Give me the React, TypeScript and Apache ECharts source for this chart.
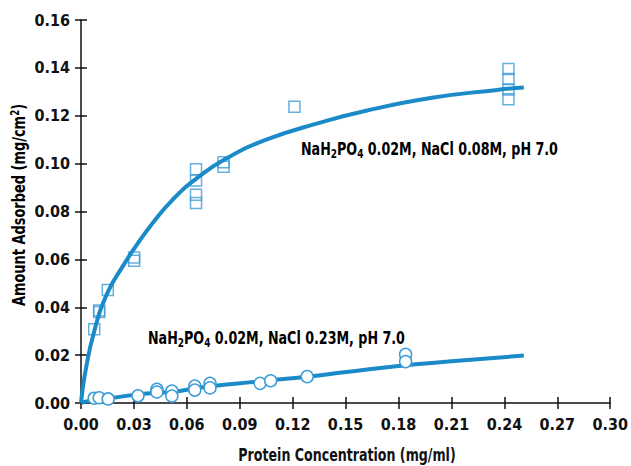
import React, { useEffect, useRef } from "react";
import * as echarts from "echarts";

// Data
const squaresX = [0.0075, 0.0103, 0.0103, 0.0152, 0.0301, 0.0301, 0.0652, 0.0652, 0.0652, 0.0652, 0.0808, 0.0808, 0.121, 0.2423, 0.2423, 0.2423, 0.2423];
const squaresY = [0.0308, 0.0386, 0.038, 0.0472, 0.0608, 0.0594, 0.0976, 0.093, 0.087, 0.0836, 0.1006, 0.0987, 0.1238, 0.1395, 0.1354, 0.131, 0.1269];

const circlesX = [0.0075, 0.0103, 0.0154, 0.0323, 0.043, 0.043, 0.0515, 0.0515, 0.0645, 0.0645, 0.0731, 0.0731, 0.1015, 0.1075, 0.1282, 0.184, 0.184];
const circlesY = [0.002, 0.0022, 0.0017, 0.003, 0.0057, 0.0046, 0.005, 0.0029, 0.0071, 0.0054, 0.0082, 0.0063, 0.0082, 0.0093, 0.011, 0.0203, 0.0173];

const upperCurveX = [0, 0.0023, 0.0075, 0.015, 0.024, 0.032, 0.041, 0.052, 0.065, 0.082, 0.105, 0.135, 0.161, 0.199, 0.236, 0.251];
const upperCurveY = [0, 0.0124, 0.03, 0.046, 0.0575, 0.0665, 0.0755, 0.085, 0.0935, 0.102, 0.11, 0.117, 0.122, 0.1275, 0.1308, 0.1318];

const lowerCurveX = [0, 0.0075, 0.0164, 0.0323, 0.052, 0.0671, 0.0859, 0.1047, 0.1282, 0.1517, 0.18, 0.2081, 0.251];
const lowerCurveY = [0, 0.0013, 0.002, 0.0036, 0.0047, 0.0064, 0.0079, 0.0093, 0.011, 0.0131, 0.0155, 0.0173, 0.0198];

const xTicks = { min: 0, max: 0.3, interval: 0.03 };
const yTicks = { min: 0, max: 0.16, interval: 0.02 };

const FONT = '"DejaVu Sans Condensed", "Liberation Sans Narrow", sans-serif';
const LINE = "#1b8ac8";
const MARK = "#3d9dd6";

const zip = (xs: number[], ys: number[]) => xs.map((x, i) => [x, ys[i]]);

export default function App() {
  const ref = useRef<HTMLDivElement>(null);
  useEffect(() => {
    if (!ref.current) return;
    const chart = echarts.init(ref.current, null, { renderer: "svg" });
    const labelStyle = { fontFamily: FONT, fontWeight: "bold" as const, fontSize: 16, color: "#111" };
    const subRich = {
      b: { fontFamily: FONT, fontWeight: "bold" as const, fontSize: 17, color: "#111" },
      sub: { fontFamily: FONT, fontWeight: "bold" as const, fontSize: 12, color: "#111", verticalAlign: "bottom" as const, padding: [8, 0, 0, 0] },
    };
    const baseX = {
      type: "value" as const,
      min: xTicks.min,
      max: xTicks.max,
      interval: xTicks.interval,
      position: "bottom" as const,
      splitLine: { show: false },
    };
    const baseY = {
      type: "value" as const,
      min: yTicks.min,
      max: yTicks.max,
      interval: yTicks.interval,
      position: "left" as const,
      splitLine: { show: false },
    };
    chart.setOption({
      animation: false,
      backgroundColor: "#fff",
      grid: { left: 81, right: 18, top: 20, bottom: 63, containLabel: false },
      xAxis: [
        {
          ...baseX,
          axisLine: { show: true, lineStyle: { color: "#111", width: 1.5 } },
          axisTick: { show: true, inside: false, length: 6, lineStyle: { color: "#111", width: 1.5 } },
          axisLabel: { ...labelStyle, margin: 13, formatter: (v: number) => v.toFixed(2) },
        },
        {
          ...baseX,
          axisLine: { show: false },
          axisTick: { show: true, inside: true, length: 6, lineStyle: { color: "#111", width: 1.5 } },
          axisLabel: { show: false },
        },
      ],
      yAxis: [
        {
          ...baseY,
          axisLine: { show: true, lineStyle: { color: "#111", width: 1.5 } },
          axisTick: { show: true, inside: false, length: 6, lineStyle: { color: "#111", width: 1.5 } },
          axisLabel: { ...labelStyle, margin: 11, formatter: (v: number) => v.toFixed(2) },
        },
        {
          ...baseY,
          axisLine: { show: false },
          axisTick: { show: true, inside: true, length: 6, lineStyle: { color: "#111", width: 1.5 } },
          axisLabel: { show: false },
        },
      ],
      series: [
        {
          type: "scatter",
          name: "NaCl 0.08M",
          data: zip(squaresX, squaresY),
          symbol: "rect",
          symbolSize: 11,
          itemStyle: { color: "rgba(255,255,255,0)", borderColor: MARK, borderWidth: 1.5 },
          z: 1,
        },
        {
          type: "line",
          data: zip(upperCurveX, upperCurveY),
          showSymbol: false,
          symbol: "none",
          smooth: 0.5,
          lineStyle: { color: LINE, width: 4 },
          z: 2,
        },
        {
          type: "line",
          data: zip(lowerCurveX, lowerCurveY),
          showSymbol: false,
          symbol: "none",
          smooth: 0.5,
          lineStyle: { color: LINE, width: 4 },
          z: 2,
        },
        {
          type: "scatter",
          name: "NaCl 0.23M",
          data: zip(circlesX, circlesY),
          symbol: "circle",
          symbolSize: 12,
          itemStyle: { color: "#ffffff", borderColor: MARK, borderWidth: 1.5, opacity: 1 },
          z: 3,
        },
      ],
      graphic: [
        {
          type: "text",
          x: 301,
          y: 150,
          scaleX: 0.83,
          style: {
            text: "{b|NaH}{sub|2}{b|PO}{sub|4}{b| 0.02M, NaCl 0.08M, pH 7.0}",
            align: "left",
            verticalAlign: "middle",
            rich: subRich,
          },
        },
        {
          type: "text",
          x: 148,
          y: 339,
          scaleX: 0.83,
          style: {
            text: "{b|NaH}{sub|2}{b|PO}{sub|4}{b| 0.02M, NaCl 0.23M, pH 7.0}",
            align: "left",
            verticalAlign: "middle",
            rich: subRich,
          },
        },
        {
          type: "text",
          x: 347,
          y: 455,
          scaleX: 0.78,
          style: {
            text: "Protein Concentration (mg/ml)",
            fontFamily: FONT,
            fontWeight: "bold",
            fontSize: 18,
            fill: "#111",
            align: "center",
            verticalAlign: "middle",
          },
        },
        {
          type: "text",
          x: 19,
          y: 205,
          rotation: Math.PI / 2,
          scaleX: 0.8,
          style: {
            text: "{b|Amount Adsorbed (mg/cm}{sup|2}{b|)}",
            align: "center",
            verticalAlign: "middle",
            rich: {
              b: { fontFamily: FONT, fontWeight: "bold", fontSize: 18, color: "#111" },
              sup: { fontFamily: FONT, fontWeight: "bold", fontSize: 12, color: "#111", verticalAlign: "top", padding: [0, 0, 8, 0] },
            },
          },
        },
      ],
    });
    return () => chart.dispose();
  }, []);
  return <div ref={ref} style={{ width: 631, height: 466, position: "absolute", left: 0, top: 0 }} />;
}
